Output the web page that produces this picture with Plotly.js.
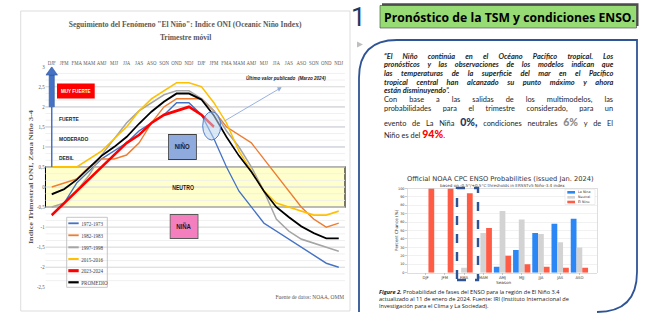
<!DOCTYPE html>
<html><head><meta charset="utf-8">
<script src="https://cdn.plot.ly/plotly-3.0.1.min.js"></script>
<style>
html,body{margin:0;padding:0;background:#fff;width:651px;height:331px;overflow:hidden;}
#oni{position:absolute;left:0;top:0;width:433px;height:331px;transform:scaleX(0.82);transform-origin:0 0;}
#right{position:absolute;left:345px;top:0;width:306px;height:331px;}
#para{position:absolute;left:0;top:0;width:651px;height:331px;pointer-events:none;}
.pl{position:absolute;left:384px;width:231px;height:10px;line-height:10px;font-family:Lato,'Open Sans',sans-serif;font-size:7.4px;color:#1e1e1e;white-space:pre;}
.pl.j{display:flex;justify-content:space-between;align-items:baseline;}
.q{font-style:italic;font-weight:700;}
.c0{font-size:10.5px;font-weight:900;color:#1F3864;}
.c6{font-size:10.5px;font-weight:900;color:#8C8C8C;}
.c94{font-size:10.5px;font-weight:900;color:#FF0000;}
</style></head>
<body>
<div id="oni"></div>
<div id="right"></div>
<div id="para"></div>
<script>
// ---------------- DATA ----------------
const seasons = ["DJF","JFM","FMA","MAM","AMJ","MJJ","JJA","JAS","ASO","SON","OND","NDJ",
                 "DJF","JFM","FMA","MAM","AMJ","MJJ","JJA","JAS","ASO","SON","OND","NDJ"];
const seriesNames = ["1972-1973","1982-1983","1997-1998","2015-2016","2023-2024","PROMEDIO"];
const oni1972 = [-0.7,-0.4,0.1,0.4,0.7,0.9,1.1,1.4,1.6,1.8,2.1,2.1,1.8,1.2,0.5,-0.1,-0.5,-0.9,-1.1,-1.3,-1.5,-1.7,-1.9,-2.0];
const oni1982 = [0.0,0.1,0.2,0.5,0.7,0.7,0.8,1.1,1.6,2.0,2.2,2.2,2.2,1.9,1.5,1.3,1.1,0.7,0.3,-0.1,-0.5,-0.8,-1.0,-0.9];
const oni1997 = [-0.5,-0.4,-0.1,0.3,0.8,1.2,1.6,1.9,2.1,2.3,2.4,2.4,2.2,1.9,1.4,1.0,0.5,-0.1,-0.8,-1.1,-1.3,-1.4,-1.5,-1.6];
const oni2015 = [0.5,0.5,0.5,0.7,0.9,1.2,1.5,1.9,2.2,2.4,2.6,2.6,2.5,2.1,1.6,0.9,0.4,-0.1,-0.4,-0.5,-0.6,-0.7,-0.7,-0.6];
const oni2023 = [-0.7,-0.4,-0.1,0.2,0.5,0.8,1.1,1.3,1.6,1.8,1.9,2.0,1.8,1.5];
const oniAvg  = [-0.18,-0.05,0.18,0.48,0.78,1.0,1.25,1.58,1.88,2.13,2.33,2.33,2.18,1.78,1.25,0.78,0.38,-0.1,-0.5,-0.75,-0.98,-1.15,-1.28,-1.28];
const yTickVals = [-2.5,-2,-1.5,-1,-0.5,0,0.5,1,1.5,2,2.5,3];
const yTickText = ["-2,5","-2","-1,5","-1","-0,5","0","0,5","1","1,5","2","2,5","3"];

const probSeasons = ["DJF","JFM","FMA","MAM","AMJ","MJJ","JJA","JAS","ASO"];
const probNames = ["La Nina","Neutral","El Nino"];
const probNina    = [0,0,0,0,7,27,47,58,64];
const probNeutral = [0,0,6,47,73,63,46,36,30];
const probNino    = [100,100,94,53,20,10,7,6,6];
const probTicks = [0,10,20,30,40,50,60,70,80,90,100];

// ---------------- STYLES ----------------
const SERIF = "'Liberation Serif','DejaVu Serif',serif";
const ASANS = "'Liberation Sans',Arial,sans-serif";
const DSANS = "'DejaVu Sans',sans-serif";
const OPEN = "'Open Sans',sans-serif";
const lineColors = ['#4472C4','#ED7D31','#A5A5A5','#FFC000','#FF0000','#000000'];
const lineWidths = [1.5,1.5,1.7,1.7,2.8,1.9];
const seriesValues = [oni1972,oni1982,oni1997,oni2015,oni2023,oniAvg];
const drawOrder = [0,1,2,3,5,4];

// ---------------- LEFT CHART (ONI) ----------------
const S = 0.82, WL = 433;
const LX = p => p/(WL*S);
const LY = p => 1 - p/331;

const oniTraces = drawOrder.map(k => ({
  type:'scatter', mode:'lines', name:seriesNames[k],
  x: seriesValues[k].map((_,i)=>i), y: seriesValues[k],
  line:{color:lineColors[k], width:lineWidths[k]}, hoverinfo:'skip'
}));

function LA(text,x,y,font,extra){
  return Object.assign({text, x:LX(x), y:LY(y), xref:'paper', yref:'paper', showarrow:false,
    font, xanchor:'center', yanchor:'middle', borderpad:0}, extra||{});
}
const legendRows = [223.3,235.3,247.3,259,270.7,282.3];

const leftShapes = [
  {type:'rect', xref:'paper', yref:'paper', x0:LX(20.7), x1:LX(350), y0:LY(311), y1:LY(11), line:{color:'#d9d9d9', width:1}, layer:'below'},
  {type:'rect', xref:'x domain', yref:'y', x0:0, x1:1, y0:-0.5, y1:0.5, fillcolor:'#FFFFCC', line:{color:'#000', width:1.3}, layer:'below'},
  ...[1,1.5,2].map(v => ({type:'line', xref:'x domain', yref:'y', x0:0, x1:1, y0:v, y1:v, line:{color:'#8FAADC', width:1}, layer:'below'})),
  {type:'line', xref:'x', yref:'y', x0:0, x1:0, y0:0.5, y1:2.0, line:{color:'#4472C4', width:1.8}},
  {type:'rect', xref:'x', yref:'y', xsizemode:'pixel', xanchor:0, x0:-2.6/S, x1:2.6/S, y0:2.0, y1:2.79, fillcolor:'#4472C4', line:{color:'#2F5597', width:0.6}},
  {type:'path', xref:'x', yref:'y', xsizemode:'pixel', xanchor:0, path:`M ${-5.8/S},2.79 L 0,3 L ${5.8/S},2.79 Z`, fillcolor:'#4472C4', line:{color:'#2F5597', width:0.6}},
  {type:'circle', xref:'paper', yref:'paper', x0:LX(202.7), x1:LX(220.7), y0:LY(140), y1:LY(111.7), fillcolor:'rgba(189,215,238,0.55)', line:{color:'#4472C4', width:1}},
  {type:'rect', xref:'paper', yref:'paper', x0:LX(66.7), x1:LX(107.3), y0:LY(287.3), y1:LY(217.3), line:{color:'#bfbfbf', width:1}},
  ...seriesNames.map((n,k)=>({type:'line', xref:'paper', yref:'paper', x0:LX(68.3), x1:LX(78.7), y0:LY(legendRows[k]), y1:LY(legendRows[k]), line:{color:lineColors[k], width:lineWidths[k]+0.3}}))
];

const lbl = {family:ASANS, size:6, color:'#262626'};
const leftAnn = [
  LA('<b>Seguimiento del Fenómeno "El Niño": Indice ONI (Oceanic Niño Index)</b>',185.5,24.5,{family:SERIF,size:9.2,color:'#595959'}),
  LA('<b>Trimestre móvil</b>',185.5,37,{family:SERIF,size:9.2,color:'#595959'}),
  LA('<b>Indice Trimestral ONI, Zona Niño 3-4</b>',30.5,177,{family:SERIF,size:8.3,color:'#595959'},{textangle:-90}),
  LA('<b>MUY FUERTE</b>',75.8,90.5,{family:ASANS,size:5.6,color:'#fff'},{bgcolor:'#FF0000', width:37/S, height:14.4}),
  LA('<b>FUERTE</b>',58,118.7,lbl,{xanchor:'left'}),
  LA('<b>MODERADO</b>',58,138.8,lbl,{xanchor:'left'}),
  LA('<b>DEBIL</b>',58,157.7,lbl,{xanchor:'left'}),
  LA('<b>NIÑO</b>',182.5,147.2,{family:ASANS,size:7.3,color:'#1a1a1a'},{bgcolor:'#8FAADC', bordercolor:'#404040', borderwidth:1, width:28.4/S-2, height:23.7}),
  LA('<b>NIÑA</b>',184.2,226.7,{family:ASANS,size:7.3,color:'#1a1a1a'},{bgcolor:'#F47FBE', bordercolor:'#595959', borderwidth:1, width:28.3/S-2, height:23.3}),
  LA('<b>NEUTRO</b>',183.3,187.5,{family:ASANS,size:6.3,color:'#1a1a1a'}),
  LA('<b><i>Último valor publicado&nbsp;&nbsp;(Marzo 2024)</i></b>',245,78.3,{family:ASANS,size:5.6,color:'#1a1a1a'},{xanchor:'left'}),
  {text:'', xref:'paper', yref:'paper', x:LX(281.7), y:LY(87.3), showarrow:true, ax:(223.3-281.7)/S, ay:121.7-87.3,
   arrowcolor:'#8FAADC', arrowwidth:1, arrowhead:2, arrowsize:1},
  ...seriesNames.map((n,k)=>LA(n,80,legendRows[k],{family:SERIF,size:6.2,color:'#404040'},{xanchor:'left'})),
  LA('Fuente de datos: NOAA, OMM',345,296.7,{family:SERIF,size:6.6,color:'#595959'},{xanchor:'right'})
];

const leftLayout = {
  width:WL, height:331, margin:{l:0,r:0,t:0,b:0,pad:0},
  paper_bgcolor:'rgba(0,0,0,0)', plot_bgcolor:'rgba(0,0,0,0)', showlegend:false,
  xaxis:{domain:[LX(45.5),LX(345)], range:[-0.5,23.5], side:'top', tickmode:'array',
    tickvals:seasons.map((_,i)=>i), ticktext:seasons, ticks:'', tickangle:0, showgrid:false, zeroline:false,
    showline:false, tickfont:{family:SERIF,size:5.9,color:'#595959'}, fixedrange:true},
  yaxis:{domain:[LY(287.3),LY(66.7)], range:[-2.5,3], tickmode:'array', tickvals:yTickVals,
    ticktext:yTickText, ticks:'', showgrid:true, gridcolor:'#d9d9d9', gridwidth:1, zeroline:false,
    showline:false, tickfont:{family:SERIF,size:6,color:'#595959'}, fixedrange:true,
    minor:{tickmode:'linear', tick0:0, dtick:1/6, showgrid:true, gridcolor:'#eeeeee', gridwidth:1, ticks:''}},
  shapes:leftShapes, annotations:leftAnn
};
Plotly.newPlot('oni', oniTraces, leftLayout, {staticPlot:true, displayModeBar:false});

// ---------------- RIGHT PANEL ----------------
const RX = p => (p-345)/306;
const RY = p => 1 - p/331;
function RA(text,x,y,font,extra){
  return Object.assign({text, x:RX(x), y:RY(y), xref:'paper', yref:'paper', showarrow:false,
    font, xanchor:'center', yanchor:'middle', borderpad:0}, extra||{});
}
const barColors = ['#2B87F5','#D3D3D3','#FF5B45'];
const barValues = [probNina, probNeutral, probNino];
const barTraces = barValues.map((v,k)=>({type:'bar', name:probNames[k], x:probSeasons, y:v,
  marker:{color:barColors[k], line:{width:0}}, hoverinfo:'skip'}));

const legRowsR = [192.3,197.3,202];
const rightShapes = [
  {type:'rect', xref:'paper', yref:'paper', x0:RX(382), x1:RX(638.5), y0:RY(26), y1:RY(3.3), fillcolor:'#4d4d4d', line:{width:0}},
  {type:'rect', xref:'paper', yref:'paper', x0:RX(380), x1:RX(636.5), y0:RY(28), y1:RY(5.5), fillcolor:'#97DB74', line:{color:'#404040', width:0.6}},
  {type:'path', xref:'paper', yref:'paper', path:`M ${RX(357)},${RY(41.5)} L ${RX(363)},${RY(44.5)} L ${RX(357)},${RY(47.5)} Z`, fillcolor:'#BFBFBF', line:{width:0}},
  {type:'path', xref:'paper', yref:'paper', fillcolor:'rgba(0,0,0,0)',
   path:`M ${RX(359)},${RY(312)} L ${RX(359)},${RY(78)} Q ${RX(359)},${RY(40)} ${RX(397)},${RY(40)} L ${RX(637)},${RY(40)} L ${RX(637)},${RY(272)} Q ${RX(637)},${RY(312)} ${RX(597)},${RY(312)}`,
   line:{color:'#2F5496', width:1.8}},
  {type:'rect', xref:'paper', yref:'paper', x0:RX(457), x1:RX(478), y0:RY(280), y1:RY(188), line:{color:'#2F5496', width:2.4, dash:'dash'}},
  {type:'rect', xref:'paper', yref:'paper', x0:RX(565), x1:RX(595), y0:RY(204.5), y1:RY(189.2), fillcolor:'#fff', line:{color:'#dddddd', width:0.5}},
  ...probNames.map((n,k)=>({type:'rect', xref:'paper', yref:'paper', x0:RX(567.3), x1:RX(575), y0:RY(legRowsR[k]+1.3), y1:RY(legRowsR[k]-1.3), fillcolor:barColors[k], line:{width:0}}))
];
const capFont = {family:OPEN, size:5.6, color:'#1a1a1a'};
const rightAnn = [
  RA('1',358.5,17.5,{family:"Roboto,sans-serif", size:26, color:'#1F3864'}),
  RA('<b>Pronóstico de la TSM y condiciones ENSO.</b>',509.5,17,{family:OPEN,size:12.2,color:'#000'}),
  RA('Official NOAA CPC ENSO Probabilities (issued Jan. 2024)',500,179.3,{family:DSANS,size:6.7,color:'#333'}),
  RA('based on -0.5°/+0.5°C thresholds in ERSSTv5 Niño-3.4 index',502,185.6,{family:DSANS,size:4.1,color:'#444'}),
  RA('Percent Chance (%)',396,230,{family:DSANS,size:4.2,color:'#333'},{textangle:-90}),
  RA('Season',504,282.2,{family:DSANS,size:4.2,color:'#333'}),
  ...probNames.map((n,k)=>RA(n,577,legRowsR[k],{family:DSANS,size:3.3,color:'#333'},{xanchor:'left'})),
  RA('<b><i>Figure 2.</i></b> Probabilidad de fases del ENSO para la región de El Niño 3.4',378,291.7,capFont,{xanchor:'left'}),
  RA('actualizado al 11 de enero de 2024. Fuente: IRI (Instituto Internacional de',378,298.8,capFont,{xanchor:'left'}),
  RA('Investigación para el Clima y La Sociedad).',378,305.9,capFont,{xanchor:'left'})
];
const rightLayout = {
  width:306, height:331, margin:{l:0,r:0,t:0,b:0,pad:0},
  paper_bgcolor:'rgba(0,0,0,0)', plot_bgcolor:'#fff', showlegend:false,
  barmode:'group', bargap:0.1, bargroupgap:0,
  xaxis:{domain:[RX(407.3),RX(596.7)], type:'category', range:[-0.95,8.9], ticks:'outside', ticklen:1.5,
    tickcolor:'#999', tickwidth:0.5, showline:true, linecolor:'#c8c8c8', linewidth:0.6, mirror:true,
    showgrid:false, tickfont:{family:DSANS,size:3.8,color:'#333'}, fixedrange:true},
  yaxis:{domain:[RY(272.7),RY(188.3)], range:[0,100], tickmode:'array', tickvals:probTicks, ticks:'outside',
    ticklen:1.5, tickcolor:'#999', tickwidth:0.5, showline:true, linecolor:'#c8c8c8', linewidth:0.6, mirror:true,
    showgrid:true, gridcolor:'#e8e8e8', gridwidth:0.6, zeroline:false, tickfont:{family:DSANS,size:3.4,color:'#333'}, fixedrange:true},
  shapes:rightShapes, annotations:rightAnn
};
Plotly.newPlot('right', barTraces, rightLayout, {staticPlot:true, displayModeBar:false});

// ---------------- PARAGRAPH (justified text) ----------------
const paraLines = [
  ['q',56.7,true,'“El Niño continúa en el Océano Pacífico tropical. Los'],
  ['q',65.3,true,'pronósticos y las observaciones de los modelos indican que'],
  ['q',74.0,true,'las temperaturas de la superficie del mar en el Pacífico'],
  ['q',82.7,true,'tropical central han alcanzado su punto máximo y ahora'],
  ['q',91.4,false,'están disminuyendo”.'],
  ['n',100.0,true,'Con base a las salidas de los multimodelos, las'],
  ['n',108.5,true,'probabilidades para el trimestre considerado, para un'],
  ['n',121.7,true,'evento de La Niña {0%,|c0} condiciones neutrales {6%|c6} y de El'],
  ['n',134.0,false,'Niño es del {94%|c94}.']
];
const mark = t => t.replace(/\{([^|]+)\|(\w+)\}/g,'<span class="$2">$1</span>');
const para = document.getElementById('para');
paraLines.forEach(([cls,y,just,txt])=>{
  const d = document.createElement('div');
  d.className = 'pl' + (just?' j':'') + (cls==='q'?' q':'');
  d.style.top = (y-5)+'px';
  if (just) {
    txt.split(' ').forEach(w=>{ const s=document.createElement('span'); s.innerHTML = mark(w)+' '; d.appendChild(s); });
  } else {
    d.innerHTML = mark(txt);
  }
  para.appendChild(d);
});
</script>
</body></html>
